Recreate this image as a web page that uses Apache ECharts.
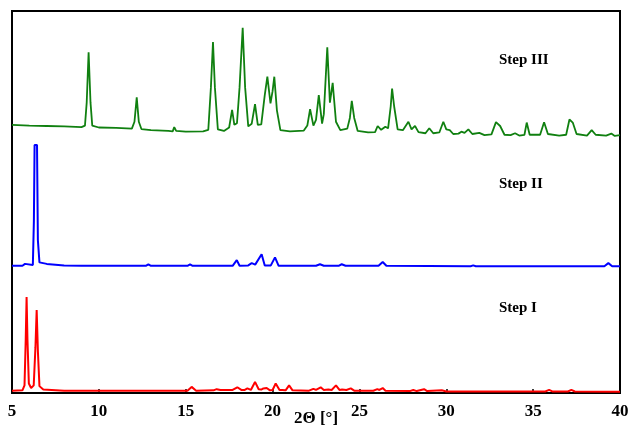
<!DOCTYPE html>
<html>
<head>
<meta charset="utf-8">
<script src="https://cdn.jsdelivr.net/npm/echarts@6/dist/echarts.min.js"></script>
<style>
  html, body { margin: 0; padding: 0; background: #fff; }
  #chart { width: 631px; height: 425px; }
</style>
</head>
<body>
<div id="chart"></div>
<script>
  // x ticks (2Θ in degrees)
  const xTicks = [5, 10, 15, 20, 25, 30, 35, 40]

  // Step III (green), [2Θ, intensity a.u.]
  const stepIII = [
    [5.0, 70.2], [6.0, 70.0], [7.0, 69.9], [8.0, 69.8], [9.0, 69.6], [9.2, 70.0], [9.3, 76], [9.41, 89.2], [9.52, 76], [9.62, 70.0],
    [10.0, 69.5], [11.0, 69.4], [11.9, 69.2], [12.05, 71], [12.18, 77.4], [12.3, 71], [12.45, 69.1], [13.0, 68.8], [14.0, 68.6],
    [14.25, 68.5], [14.34, 69.6], [14.45, 68.6], [15.0, 68.4], [16.0, 68.5], [16.3, 68.9], [16.45, 80], [16.57, 91.9], [16.68, 80],
    [16.85, 69.0], [17.2, 68.6], [17.5, 69.5], [17.67, 74.1], [17.8, 70.2], [17.95, 70.6], [18.1, 80], [18.28, 95.6], [18.42, 80],
    [18.6, 69.8], [18.8, 70.5], [18.99, 75.6], [19.15, 70.2], [19.35, 70.3], [19.55, 78], [19.70, 82.8], [19.88, 75.8], [20.0, 79],
    [20.10, 82.8], [20.25, 74], [20.45, 68.8], [21.0, 68.5], [21.8, 68.7], [22.0, 70], [22.16, 74.3], [22.35, 70], [22.5, 71.5],
    [22.66, 78.0], [22.85, 70.5], [22.95, 73], [23.15, 90.5], [23.3, 76.0], [23.46, 81.2], [23.65, 71], [23.9, 68.8], [24.3, 69.2],
    [24.45, 72], [24.56, 76.5], [24.7, 72], [24.9, 68.6], [25.5, 68.2], [25.9, 68.3], [26.05, 69.9], [26.25, 68.9], [26.49, 69.7],
    [26.65, 69.3], [26.8, 75], [26.88, 79.7], [27.0, 75], [27.2, 69.0], [27.5, 68.8], [27.82, 71.0], [28.0, 69.0], [28.2, 69.9],
    [28.4, 68.3], [28.8, 68.0], [29.02, 69.3], [29.25, 68.0], [29.6, 68.2], [29.83, 71.0], [30.0, 69.0], [30.2, 68.8], [30.4, 67.8],
    [30.7, 67.9], [30.87, 68.4], [31.05, 68.1], [31.27, 69.0], [31.5, 67.8], [31.9, 68.1], [32.2, 67.5], [32.6, 67.7], [32.86, 70.9],
    [33.1, 69.9], [33.35, 67.6], [33.7, 67.5], [33.96, 68.0], [34.2, 67.4], [34.5, 67.6], [34.63, 70.8], [34.8, 67.6], [35.4, 67.6],
    [35.63, 70.9], [35.85, 67.8], [36.5, 67.4], [36.9, 67.6], [37.09, 71.6], [37.28, 70.8], [37.5, 67.8], [38.1, 67.4], [38.37, 68.8],
    [38.6, 67.6], [39.2, 67.4], [39.5, 67.9], [39.7, 67.3], [40.0, 67.5]
  ]

  // Step II (blue)
  const stepII = [
    [5.0, 33.3], [5.6, 33.3], [5.75, 33.8], [5.85, 33.3], [6.2, 33.5], [6.26, 45], [6.30, 64.9], [6.44, 64.9], [6.49, 40],
    [6.58, 34.2], [7.0, 33.8], [8.0, 33.4], [9.0, 33.3], [12.7, 33.3], [12.85, 33.7], [13.0, 33.3], [15.1, 33.3], [15.25, 33.7],
    [15.4, 33.3], [17.7, 33.3], [17.94, 34.8], [18.1, 33.3], [18.6, 33.4], [18.8, 34.0], [19.0, 33.6], [19.1, 33.5], [19.37, 36.3],
    [19.55, 33.4], [19.9, 33.4], [20.14, 35.5], [20.35, 33.3], [22.5, 33.3], [22.73, 33.7], [22.95, 33.3], [23.8, 33.3], [23.98, 33.7],
    [24.2, 33.3], [26.1, 33.3], [26.34, 34.3], [26.55, 33.3], [31.4, 33.2], [31.55, 33.4], [31.7, 33.2], [39.1, 33.2], [39.33, 34.0],
    [39.55, 33.2], [40.0, 33.2]
  ]

  // Step I (red)
  const stepI = [
    [5.0, 0.6], [5.6, 0.7], [5.72, 2], [5.79, 14], [5.84, 25.1], [5.89, 14], [5.97, 2.5], [6.1, 1.3], [6.25, 2], [6.35, 12],
    [6.42, 21.7], [6.49, 11], [6.58, 1.8], [6.8, 0.9], [8.0, 0.6], [15.1, 0.6], [15.34, 1.6], [15.45, 1.7], [15.6, 0.6], [16.6, 0.7],
    [16.78, 1.0], [17.0, 0.8], [17.7, 0.8], [17.97, 1.5], [18.2, 0.8], [18.4, 0.8], [18.55, 1.2], [18.75, 0.8], [18.99, 2.9],
    [19.2, 1.0], [19.35, 0.9], [19.47, 1.2], [19.56, 0.9], [19.66, 1.3], [19.85, 0.7], [20.0, 0.8], [20.18, 2.5], [20.4, 0.8],
    [20.55, 0.8], [20.65, 1.0], [20.75, 0.7], [20.95, 2.0], [21.15, 0.7], [22.1, 0.6], [22.35, 1.1], [22.5, 0.8], [22.77, 1.5],
    [22.95, 0.8], [23.21, 0.9], [23.4, 0.8], [23.65, 2.0], [23.85, 0.8], [24.0, 0.9], [24.1, 1.0], [24.25, 0.8], [24.5, 1.2],
    [24.7, 0.6], [25.8, 0.6], [26.03, 1.0], [26.15, 0.8], [26.34, 1.3], [26.5, 0.6], [27.9, 0.5], [28.1, 0.8], [28.3, 0.5],
    [28.72, 1.0], [28.9, 0.5], [29.74, 0.7], [30.0, 0.4], [35.7, 0.4], [35.92, 0.8], [36.1, 0.4], [37.0, 0.4], [37.2, 0.8],
    [37.4, 0.4], [40.0, 0.3]
  ]

  const serif = '"Liberation Serif", "DejaVu Serif", serif'

  const chart = echarts.init(document.getElementById('chart'))

  const lineSeries = (name, data, color, width) => ({
    name,
    type: 'line',
    data,
    symbol: 'none',
    smooth: false,
    animation: false,
    lineStyle: { color, width }
  })

  chart.setOption({
    animation: false,
    grid: {
      left: 12, right: 11, top: 11, bottom: 32,
      outerBoundsMode: 'none',
      containLabel: false,
      show: true,
      borderColor: '#000',
      borderWidth: 2,
      backgroundColor: 'transparent'
    },
    xAxis: {
      type: 'value',
      min: xTicks[0],
      max: xTicks[xTicks.length - 1],
      interval: 5,
      name: '2Θ [°]',
      nameLocation: 'middle',
      nameGap: 17,
      nameMoveOverlap: false,
      nameTextStyle: { fontFamily: serif, fontWeight: 'bold', fontSize: 17, color: '#000' },
      axisLine: { show: true, lineStyle: { color: '#000', width: 2 } },
      axisTick: { show: true, inside: true, length: 4, lineStyle: { color: '#000', width: 1.5 } },
      axisLabel: { margin: 10, fontFamily: serif, fontWeight: 'bold', fontSize: 17, color: '#000' },
      splitLine: { show: false }
    },
    yAxis: {
      type: 'value',
      min: 0,
      max: 100,
      axisLine: { show: true, lineStyle: { color: '#000', width: 2 } },
      axisTick: { show: false },
      axisLabel: { show: false },
      splitLine: { show: false }
    },
    series: [
      lineSeries('Step I', stepI, '#ff0000', 2),
      lineSeries('Step II', stepII, '#0000ff', 2),
      lineSeries('Step III', stepIII, '#108010', 1.8)
    ],
    graphic: [
      { type: 'text', left: 499, top: 53, style: { text: 'Step III', font: 'bold 15px ' + serif, fill: '#000' } },
      { type: 'text', left: 499, top: 177, style: { text: 'Step II', font: 'bold 15px ' + serif, fill: '#000' } },
      { type: 'text', left: 499, top: 301, style: { text: 'Step I', font: 'bold 15px ' + serif, fill: '#000' } }
    ]
  })
</script>
</body>
</html>
